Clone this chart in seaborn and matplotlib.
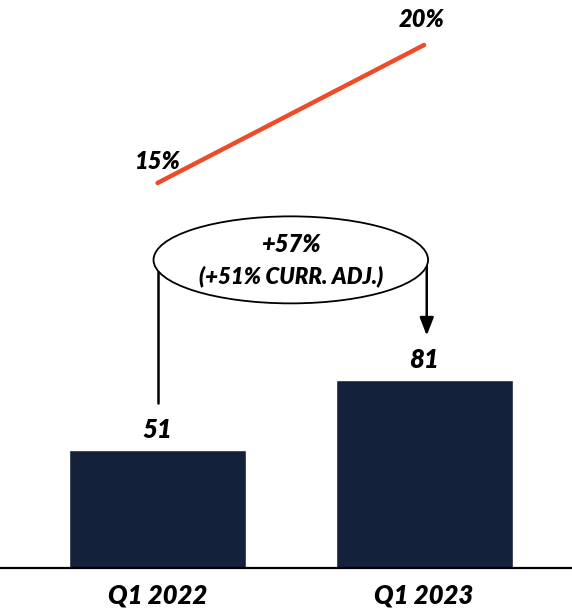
import matplotlib
matplotlib.use("Agg")
import matplotlib.pyplot as plt
from matplotlib.patches import Ellipse
import seaborn as sns

# Revenue (bars) and margin (line) per period
periods = ["Q1 2022", "Q1 2023"]
revenue = [51, 81]
margin = [15, 20]
margin_labels = ["15%", "20%"]
growth_text = "+57%"
growth_note = "(+51% CURR. ADJ.)"

BAR_COLOR = "#13213A"
LINE_COLOR = "#EE4B2B"
FONT = dict(family="Lato", weight="heavy", style="italic", color="black")

sns.set_theme(style="white")
plt.rcParams["font.family"] = ["Lato", "DejaVu Sans"]

fig = plt.figure(figsize=(5.72, 6.08), dpi=100)
ax = fig.add_axes([0, 40 / 608, 1, 568 / 608])

sns.barplot(x=periods, y=revenue, color=BAR_COLOR, width=0.664,
            saturation=1, ax=ax)
ax.set_xlim(-0.591, 1.555)
ax.set_ylim(0, 244.8)

for sp in ["top", "right", "left"]:
    ax.spines[sp].set_visible(False)
ax.spines["bottom"].set_color("black")
ax.spines["bottom"].set_linewidth(1.6)
ax.set_yticks([])
ax.set_xlabel("")
ax.set_ylabel("")
ax.tick_params(axis="x", length=0, pad=11)
for lab in ax.get_xticklabels():
    lab.set_fontfamily("Lato")
    lab.set_fontweight("heavy")
    lab.set_fontstyle("italic")
    lab.set_fontsize(18.5)
    lab.set_color("black")

for i, v in enumerate(revenue):
    ax.text(i, v + 3.5, str(v), ha="center", va="bottom", fontsize=18.5, **FONT)

# Growth callout: ellipse with connector from first bar and arrow to second
ell_y = 132.8
ax.add_patch(Ellipse((0.5, ell_y), 1.03, 37.5, facecolor="white",
                     edgecolor="black", linewidth=1.3, zorder=3))
ax.plot([0, 0], [ell_y, 71], color="black", linewidth=1.8, zorder=2)
ax.annotate("", xy=(1.01, 100.2), xytext=(1.01, ell_y),
            arrowprops=dict(arrowstyle="-|>,head_width=0.35,head_length=0.9",
                            color="black", linewidth=1.8, shrinkA=0, shrinkB=0),
            zorder=2)
ax.text(0.5, ell_y + 6.5, growth_text, ha="center", va="center",
        fontsize=17, zorder=4, **FONT)
ax.text(0.5, ell_y - 7, growth_note, ha="center", va="center",
        fontsize=16, zorder=4, **FONT)

# Margin line on a secondary scale
ax2 = ax.twinx()
sns.lineplot(x=[0, 1], y=margin, color=LINE_COLOR, linewidth=3.2, ax=ax2)
ax2.set_ylim(1.051, 21.63)
ax2.set_yticks([])
ax2.set_ylabel("")
for sp in ax2.spines.values():
    sp.set_visible(False)
ax2.text(0, margin[0] + 0.35, margin_labels[0], ha="center", va="bottom",
         fontsize=17, **FONT)
ax2.text(1 - 0.01, margin[1] + 0.5, margin_labels[1], ha="center",
         va="bottom", fontsize=17, **FONT)

fig.savefig("out.png", dpi=100)
